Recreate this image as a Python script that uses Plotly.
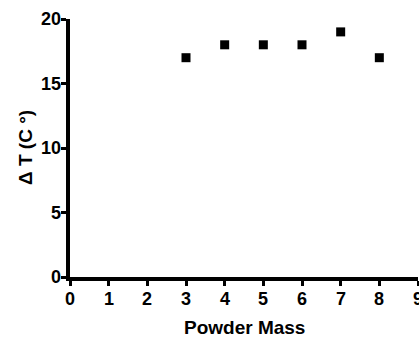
import plotly.graph_objects as go

powder_mass = [3, 4, 5, 6, 7, 8]
delta_t = [17, 18, 18, 18, 19, 17]
x_ticks = [0, 1, 2, 3, 4, 5, 6, 7, 8, 9]
y_ticks = [0, 5, 10, 15, 20]
x_title = "Powder Mass"
y_title = "Δ T (C °)"

FONT = "Liberation Sans, Arial, sans-serif"
BOLD18 = dict(size=18, family=FONT, color="black", weight="bold")
BOLD19 = dict(size=19, family=FONT, color="black", weight="bold")

fig = go.Figure()
fig.add_trace(go.Scatter(
    x=powder_mass, y=delta_t, mode="markers",
    marker=dict(symbol="square", size=9, color="black", line=dict(width=0)),
    cliponaxis=False,
))

# bold tick labels placed through the axes' own scales
for v in x_ticks:
    fig.add_annotation(x=v, xref="x", y=0, yref="paper", text=str(v),
                       showarrow=False, xanchor="center", yanchor="middle",
                       yshift=-22, font=BOLD18)
for v in y_ticks:
    fig.add_annotation(x=0, xref="paper", y=v, yref="y", text=str(v),
                       showarrow=False, xanchor="right", yanchor="middle",
                       xshift=-7, font=BOLD18)

fig.add_annotation(x=0.5, xref="paper", y=0, yref="paper", text=x_title,
                   showarrow=False, xanchor="center", yanchor="middle",
                   yshift=-50, font=BOLD19)
fig.add_annotation(x=0, xref="paper", y=0.5, yref="paper", text=y_title,
                   showarrow=False, xanchor="center", yanchor="middle",
                   textangle=-90, xshift=-45, font=BOLD19)

fig.update_layout(
    width=419, height=337,
    margin=dict(l=70, r=1, t=19, b=60),
    paper_bgcolor="white", plot_bgcolor="white",
    showlegend=False,
    font=dict(family=FONT, color="black"),
)
fig.update_xaxes(
    range=[0, 9], tickvals=x_ticks, showticklabels=False,
    showgrid=False, zeroline=False, showline=True, linecolor="black", linewidth=4,
    ticks="outside", ticklen=5, tickwidth=3, tickcolor="black",
)
fig.update_yaxes(
    range=[0, 20], tickvals=y_ticks, showticklabels=False,
    showgrid=False, zeroline=False, showline=True, linecolor="black", linewidth=4,
    ticks="outside", ticklen=5, tickwidth=3, tickcolor="black",
)

fig.write_html("out.html")
